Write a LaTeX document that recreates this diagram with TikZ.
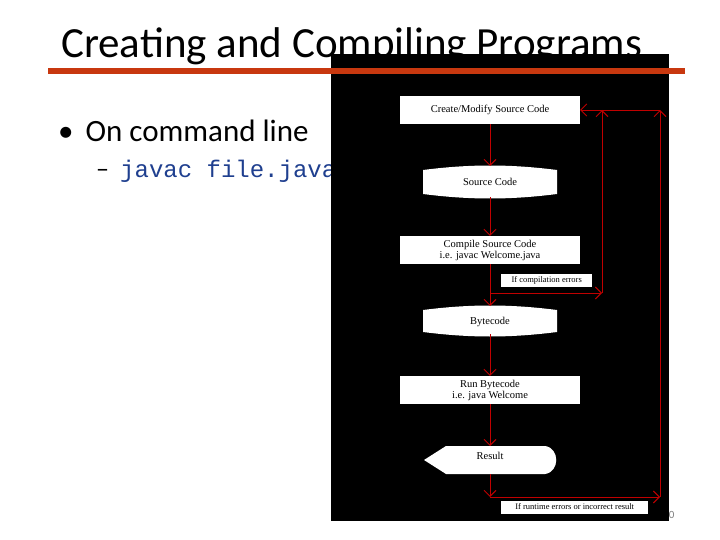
\documentclass[tikz,border=0pt]{standalone}
\usepackage{fontspec}
\setmainfont{Liberation Serif}
\newfontfamily\carl{Carlito}
\newfontfamily\mono{Liberation Mono}
\usetikzlibrary{arrows.meta}
\definecolor{ored}{HTML}{C8380F}
\definecolor{arr}{HTML}{C00000}
\definecolor{jblue}{HTML}{1F3F8F}
\begin{document}
\begin{tikzpicture}[x=1pt,y=-1pt,
  lbl/.style={font=\fontsize{10.5}{11.5}\selectfont, align=center, inner sep=0pt},
  wbox/.style={fill=white, draw=none, minimum width=180pt, minimum height=28pt, inner sep=0pt, font=\fontsize{10.5}{11}\selectfont, align=center},
  tag/.style={fill=white, inner sep=1pt, font=\fontsize{8.5}{9}\selectfont, anchor=west, minimum height=13pt},
  flow/.style={draw=arr, line width=0.9pt, -{Straight Barb[length=6pt,width=12pt]}}]
\useasboundingbox (0,0) rectangle (720,540);
\fill[white] (0,0) rectangle (720,540);
\node[anchor=base west, inner sep=0pt, font=\carl\fontsize{43}{46}\selectfont] (title) at (61,58) {Creating and Compiling Programs};
\node[anchor=base west, inner sep=0pt, font=\carl\fontsize{31}{34}\selectfont] (b1) at (58,142) {\textbullet\hspace{12pt}On command line};
\node[anchor=base west, inner sep=0pt, font=\carl\fontsize{26}{28}\selectfont] (dash) at (96,178) {\textendash};
\node[anchor=base west, inner sep=0pt, font=\mono\fontsize{24}{26}\selectfont, text=jblue] (cmd) at (120,178) {javac file.java};
\node[anchor=base west, inner sep=0pt, text=gray, font=\carl\fontsize{11}{12}\selectfont] (pg) at (663,518) {10};
\fill[black] (331,54) rectangle (669,521);
\fill[ored] (48,68) rectangle (685,74);
% shapes
\node[wbox] (create) at (490,110) {Create/Modify Source Code};
\node[wbox] (compile) at (490,250) {Compile Source Code\\i.e. javac Welcome.java};
\node[wbox] (run) at (490,390) {Run Bytecode\\i.e. java Welcome};
\fill[white] (423,170) .. controls (470,164) and (510,164) .. (557,170) -- (557,194) .. controls (510,200) and (470,200) .. (423,194) -- cycle;
\node[lbl] (src) at (490,182) {Source Code};
\fill[white] (423,310) .. controls (470,304) and (510,304) .. (557,310) -- (557,332) .. controls (510,338) and (470,338) .. (423,332) -- cycle;
\node[lbl] (bc) at (490,322) {Bytecode};
\fill[white] (424,460) -- (446,446) -- (545,446) .. controls (560,448) and (560,472) .. (545,474) -- (446,474) -- cycle;
\node[lbl] (res) at (490,456) {Result};
\node[tag, minimum width=91pt] (t1) at (501,280) {If compilation errors\hfill};
\node[tag, minimum width=147pt] (t2) at (501,507) {If runtime errors or incorrect result\hfill};
% connectors
\coordinate (j1) at (490,293);
\coordinate (j2) at (602,293);
\coordinate (j2t) at (602,110);
\coordinate (j3) at (490,497);
\coordinate (j4) at (660,497);
\coordinate (j4t) at (660,110);
\draw[flow] (create.south) -- (490,166);
\draw[flow] (490,197) -- (compile.north);
\draw[flow] (compile.south) -- (490,306);
\draw[flow] (run.north |- 0,334) -- (run.north);
\draw[flow] (run.south) -- (490,446);
\draw[flow] (490,474) -- (j3);
\draw[flow] (j1) -- (j2);
\draw[flow] (j2) -- (j2t);
\draw[flow] (j3) -- (j4);
\draw[flow] (j4) -- (j4t);
\draw[flow] (j4t) -- (create.east);
\end{tikzpicture}
\end{document}
